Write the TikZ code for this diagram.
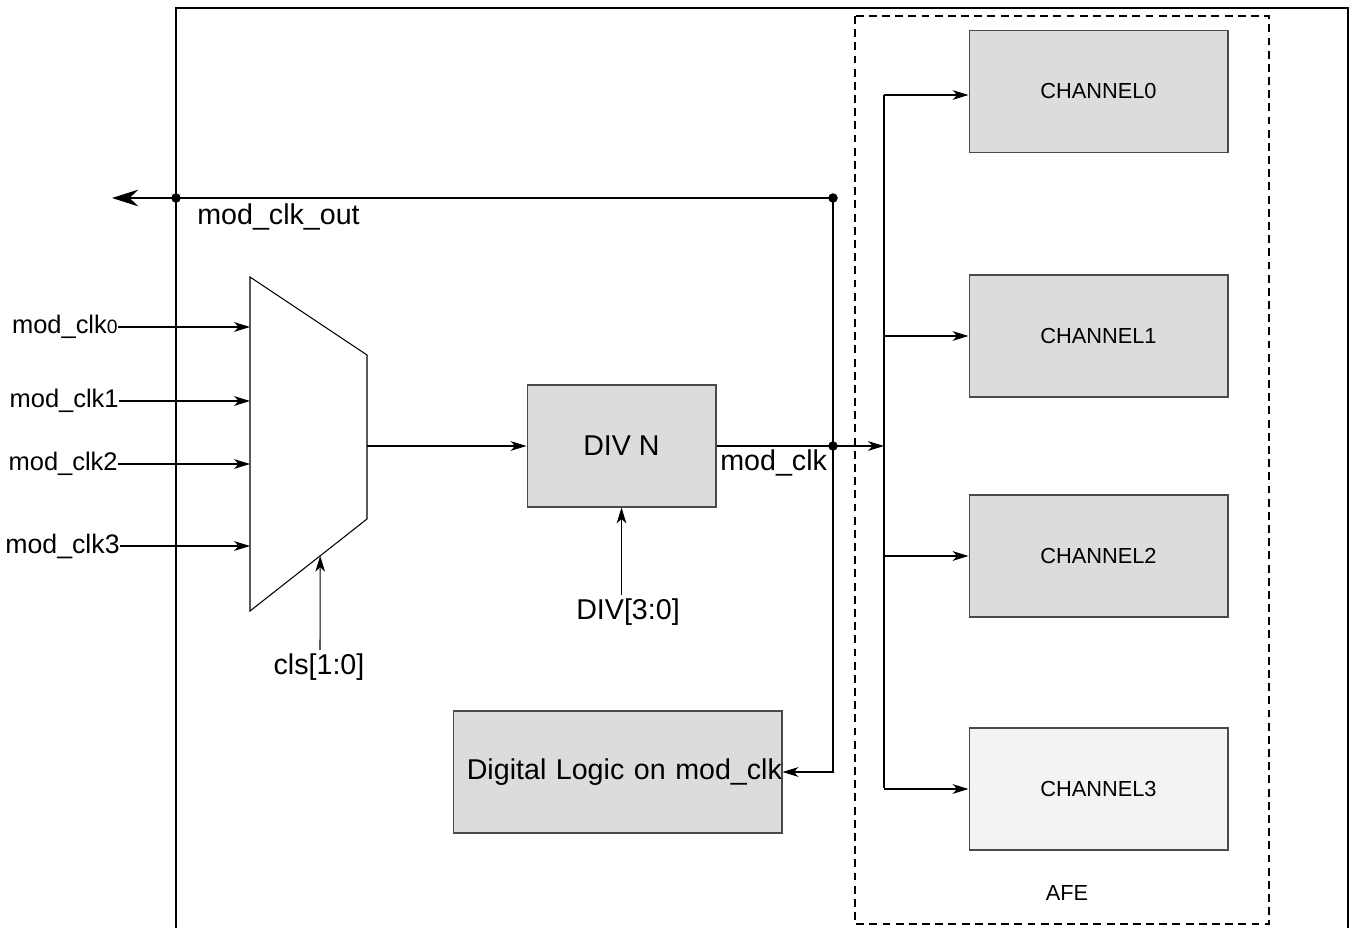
\documentclass[tikz,border=0pt]{standalone}
\usepackage{fontspec}
\setmainfont{Liberation Sans}
\usepackage{tikz}
\usetikzlibrary{arrows.meta,calc,positioning}

\definecolor{blockgray}{HTML}{DCDCDC}
\definecolor{lightgray}{HTML}{F3F3F3}
\definecolor{edgegray}{HTML}{4A4A4A}

\tikzset{
  >={Stealth[length=9pt,width=5.5pt,inset=2.5pt]},
  wire/.style={line width=0.6pt},
  block/.style={draw=edgegray, line width=0.6pt, fill=blockgray, minimum width=3.78cm, minimum height=2.44cm, font=\fontsize{16.3pt}{19pt}\selectfont},
  chan/.style={block, minimum width=5.18cm, font=\fontsize{12.4pt}{15pt}\selectfont},
  inlabel/.style={inner sep=0pt, font=\fontsize{14.5pt}{17pt}\selectfont},
  biglabel/.style={inner sep=2pt, font=\fontsize{16.3pt}{19pt}\selectfont},
  junction/.style={circle, fill=black, inner sep=0pt, minimum size=0.19cm}
}

\begin{document}
\begin{tikzpicture}[x=0.02cm, y=-0.02cm]
    \useasboundingbox (0,0) rectangle (1351,928);

    % Outer box
    \draw[line width=0.8pt] (176,928) -- (176,8) -- (1348,8) -- (1348,928);

    % AFE
    \draw[line width=0.6pt, dash pattern=on 4.5pt off 3pt] (855,16) rectangle (1269,924);
    \node[font=\fontsize{12.4pt}{15pt}\selectfont] (afe) at (1067,893) {AFE};

    % Channels
    \node[chan] (ch0) at (1098.5,91.5) {CHANNEL0};
    \node[chan] (ch1) at (1098.5,336) {CHANNEL1};
    \node[chan] (ch2) at (1098.5,556) {CHANNEL2};
    \node[chan, fill=lightgray] (ch3) at (1098.5,789) {CHANNEL3};

    % Bus
    \coordinate (bustop) at (884,95);
    \coordinate (busbot) at (884,788);
    \coordinate (busin) at (884,446);
    \draw[wire] (bustop) -- (busbot);
    \draw[wire,->] (bustop) -- (bustop -| ch0.west);
    \foreach \c in {ch1,ch2,ch3}
        \draw[wire,->] (\c.west -| bustop) -- (\c.west);

    % Mux
    \coordinate (m1) at (250,277);
    \coordinate (m2) at (367,355);
    \coordinate (m3) at (367,519);
    \coordinate (m4) at (250,611);
    \coordinate (muxout) at (367,446);
    \draw[wire] (m1) -- (m2) -- (m3) -- (m4) -- cycle;

    % Inputs
    \node[inlabel, anchor=east] (in0) at (118,327) {mod\_clk{\fontsize{11pt}{13pt}\selectfont 0}};
    \node[inlabel, anchor=east] (in1) at (119,401) {mod\_clk1};
    \node[inlabel, anchor=east] (in2) at (118,464) {mod\_clk2};
    \node[inlabel, anchor=east, font=\fontsize{15.2pt}{18pt}\selectfont] (in3) at (120,546) {mod\_clk3};
    \foreach \i in {in0,in1,in2,in3}
        \draw[wire,->] (\i.east) -- (\i.east -| m1);

    % Select
    \node[biglabel] (cls) at (319,667) {cls[1:0]};
    \draw[wire,->] (cls.north -| 320,0) -- ($(m3)!0.4!(m4)$);

    % Divider
    \node[block] (divn) at (621.5,446) {DIV N};
    \draw[wire,->] (muxout) -- (divn.west);
    \node[biglabel] (divsel) at (628,612) {DIV[3:0]};
    \draw[wire,->] (divn.south |- divsel.north) -- (divn.south);

    % Digital logic
    \node[block, inner xsep=0pt, text width=6.58cm, align=right] (dl) at (617.5,772) {Digital Logic on mod\_clk};

    % mod_clk
    \node[junction] (jclk) at (833,446) {};
    \node[junction] (jtop) at (833,198) {};
    \node[junction] (jout) at (176,198) {};
    \coordinate (outend) at (112,198);
    \draw[wire,->] (divn.east) -- (busin);
    \node[biglabel, inner sep=0pt, anchor=north west] (clklab) at (720,449) {mod\_clk};
    \draw[wire,->] (jtop.center) -- (jtop.center |- dl.east) -- (dl.east);
    \draw[wire,-{Stealth[length=15pt,width=9.5pt,inset=5pt]}] (jtop.center) -- (outend);
    \node[biglabel, inner sep=0pt, anchor=north west] (outlab) at (197,203) {mod\_clk\_out};
\end{tikzpicture}
\end{document}
